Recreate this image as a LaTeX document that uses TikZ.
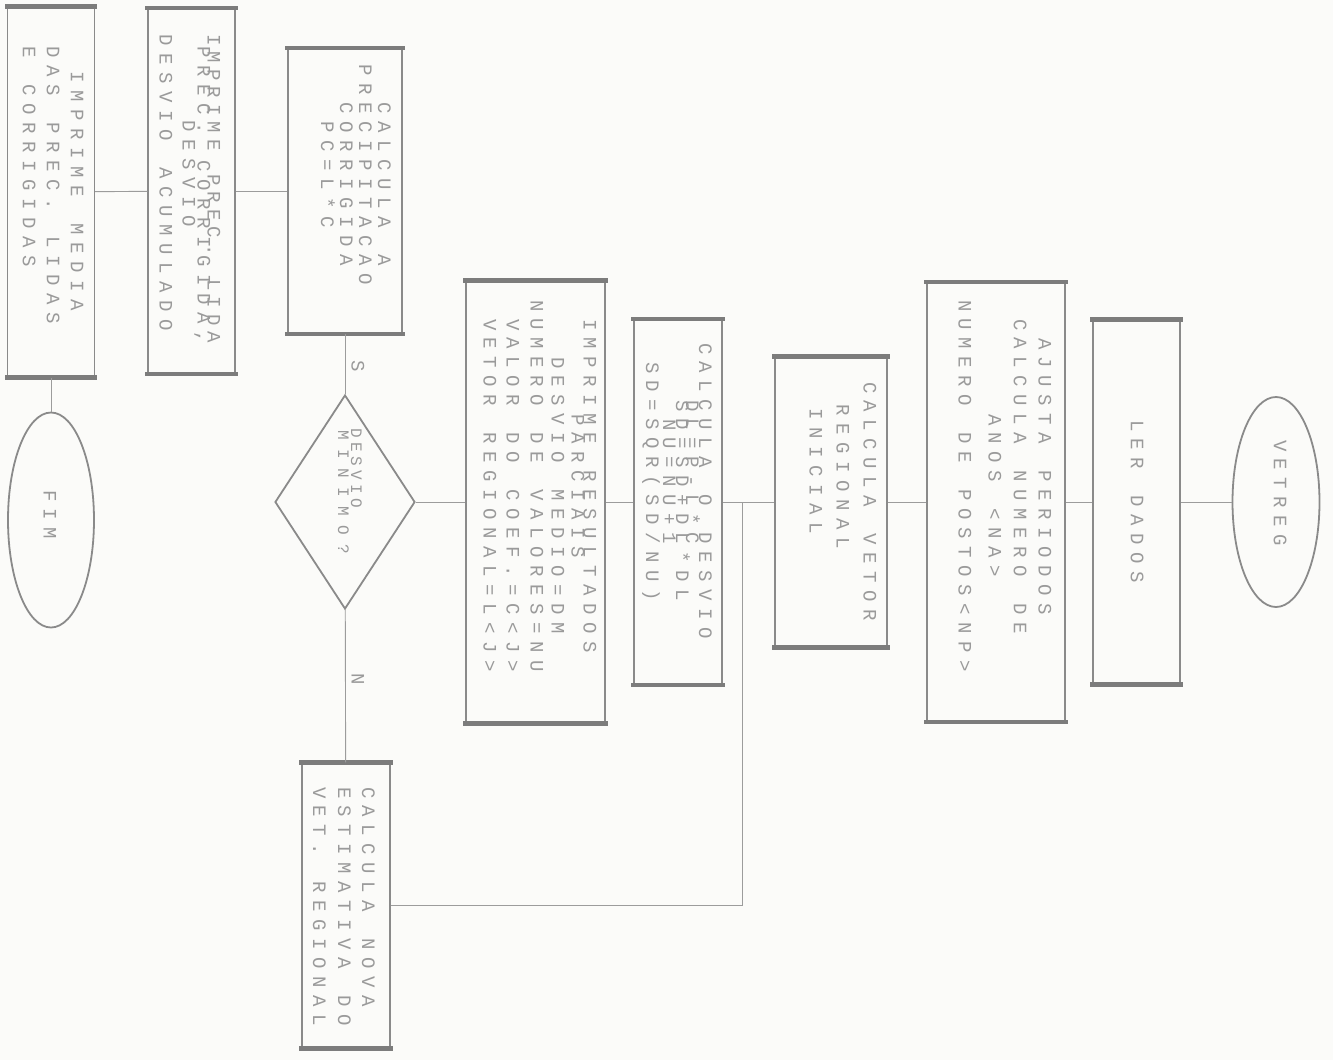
\documentclass[tikz,border=0pt]{standalone}
\usepackage{fontspec}
\newfontfamily\dotfont{Liberation Mono}
\usetikzlibrary{shapes.geometric}
\definecolor{ink}{HTML}{8A8A8A}
\definecolor{txtc}{HTML}{9A9A9A}
\definecolor{paper}{HTML}{FBFBF9}
\newlength\dmpitch
\setlength\dmpitch{19pt}
\def\dmC#1{\ifx\relax#1\else\makebox[\dmpitch][c]{#1}\expandafter\dmC\fi}
\newcommand\dm[1]{\dmC#1\relax}
\newcommand\ind[1]{\hspace*{#1\dmpitch}}
\begin{document}
\begin{tikzpicture}[x=1pt,y=-1pt,
  box/.style={draw=ink, line width=1.1pt, inner sep=0pt,
    append after command={(\tikzlastnode.north west) edge[bar] (\tikzlastnode.north east)
      (\tikzlastnode.south west) edge[bar] (\tikzlastnode.south east)}},
  bar/.style={draw=ink!90!black, line width=4.5pt, line cap=rect},
  oval/.style={ellipse, draw=ink, line width=1.8pt, inner sep=0pt},
  decision/.style={diamond, draw=ink, line width=1.8pt, inner sep=0pt},
  txt/.style={rotate=-90, anchor=west, inner sep=0pt, align=left, text=txtc,
    font=\dotfont\fontsize{19}{24}\selectfont},
  lbl/.style={rotate=-90, inner sep=0pt, text=txtc, font=\dotfont\fontsize{19}{24}\selectfont},
  conn/.style={draw=ink!85, line width=0.9pt}]
\fill[paper] (0,0) rectangle (1333,1060);
\useasboundingbox (0,0) rectangle (1333,1060);

% shapes
\node[box, minimum width=87pt, minimum height=370pt] (b1) at (51,192) {};
\node[box, minimum width=87pt, minimum height=365pt] (b2) at (191.5,191) {};
\node[box, minimum width=114pt, minimum height=285pt] (b3) at (345,191) {};
\node[decision, minimum width=140pt, minimum height=214pt] (dia) at (345,502) {};
\node[box, minimum width=139pt, minimum height=442pt] (b4) at (535.5,502) {};
\node[box, minimum width=88pt, minimum height=365pt] (b5) at (678,502) {};
\node[box, minimum width=112pt, minimum height=290pt] (b6) at (831,502) {};
\node[box, minimum width=138pt, minimum height=439pt] (b7) at (996,502) {};
\node[box, minimum width=87pt, minimum height=364pt] (b8) at (1136.5,502) {};
\node[oval, minimum width=87pt, minimum height=210pt] (vetreg) at (1276,502) {};
\node[oval, minimum width=86pt, minimum height=215pt] (fim) at (51,520) {};
\node[box, minimum width=88pt, minimum height=285pt] (b9) at (346,905.5) {};
\coordinate (j) at (742,502);

% texts
\node[txt] (t1) at (53,43) {\ind{1.3}\dm{IMPRIME~MEDIA}\\\dm{DAS~PREC.~LIDAS}\\\dm{E~CORRIGIDAS}};
\node[txt] (t2) at (190,31) {\setlength\dmpitch{17.5pt}\dm{IMPRIME~PREC.~LIDA}\\[-14pt]\ind{0.6}\dm{PREC.~CORRIGIDA,}\\[-9pt]\ind{4.5}\dm{DESVIO}\\[-1pt]\dm{DESVIO~ACUMULADO}};
\node[txt] (t3) at (356,61) {\ind{2}\dm{CALCULA~A}\\[-5pt]\dm{PRECIPITACAO}\\[-5pt]\ind{2}\dm{CORRIGIDA}\\[-5pt]\ind{3}\dm{PC=L*C}};
\node[txt, font=\dotfont\fontsize{16}{13}\selectfont] (td) at (350,426) {\setlength\dmpitch{14pt}\dm{DESVIO}\\\dm{MINIMO?}};
\node[txt] (t4) at (540,296) {\ind{1}\dm{IMPRIME~RESULTADOS}\\[-12pt]\ind{6}\dm{PARCIAIS}\\[-4pt]\ind{3}\dm{DESVIO~MEDIO=DM}\\[-3pt]\dm{NUMERO~DE~VALORES=NU}\\\ind{1}\dm{VALOR~DO~COEF.=C<J>}\\[-1pt]\ind{1}\dm{VETOR~REGIONAL=L<J>}};
\node[txt] (t5) at (677,339) {\dm{CALCULA~O~DESVIO}\\[-11pt]\ind{3}\dm{DL=P-L*C}\\[-14pt]\ind{3}\dm{SD=SD+DL*DL}\\[-11pt]\ind{4}\dm{NU=NU+1}\\[-7pt]\ind{1}\dm{SD=SQR(SD/NU)}};
\node[txt] (t6) at (843,378) {\dm{CALCULA~VETOR}\\[3pt]\ind{1.2}\dm{REGIONAL}\\[3pt]\ind{1.4}\dm{INICIAL}};
\node[txt] (t7) at (1005,296) {\ind{2}\dm{AJUSTA~PERIODOS}\\[1pt]\ind{1}\dm{CALCULA~NUMERO~DE}\\[1pt]\ind{6}\dm{ANOS~<NA>}\\[6pt]\dm{NUMERO~DE~POSTOS<NP>}};
\node[txt] (t8) at (1137,416) {\dm{LER~DADOS}};
\node[txt] (tv) at (1280,436) {\dm{VETREG}};
\node[txt] (tf) at (50,486) {\dm{FIM}};
\node[txt] (t9) at (344,783) {\dm{CALCULA~NOVA}\\\dm{ESTIMATIVA~DO}\\[1pt]\dm{VET.~REGIONAL}};
\node[lbl] (s) at (358,366) {S};
\node[lbl] (n) at (358,679) {N};

% connectors
\draw[conn] (vetreg) -- (b8);
\draw[conn] (b8) -- (b7);
\draw[conn] (b7) -- (b6);
\draw[conn] (b6) -- (b5);
\draw[conn] (b5) -- (b4);
\draw[conn] (b4) -- (dia);
\draw[conn] (b3) -- (dia);
\draw[conn] (dia) -- (b9);
\draw[conn] (b3) -- (b2);
\draw[conn] (b2) -- (b1);
\draw[conn] (b1) -- (fim);
\draw[conn] (b9.east) -| (j);
\end{tikzpicture}
\end{document}
